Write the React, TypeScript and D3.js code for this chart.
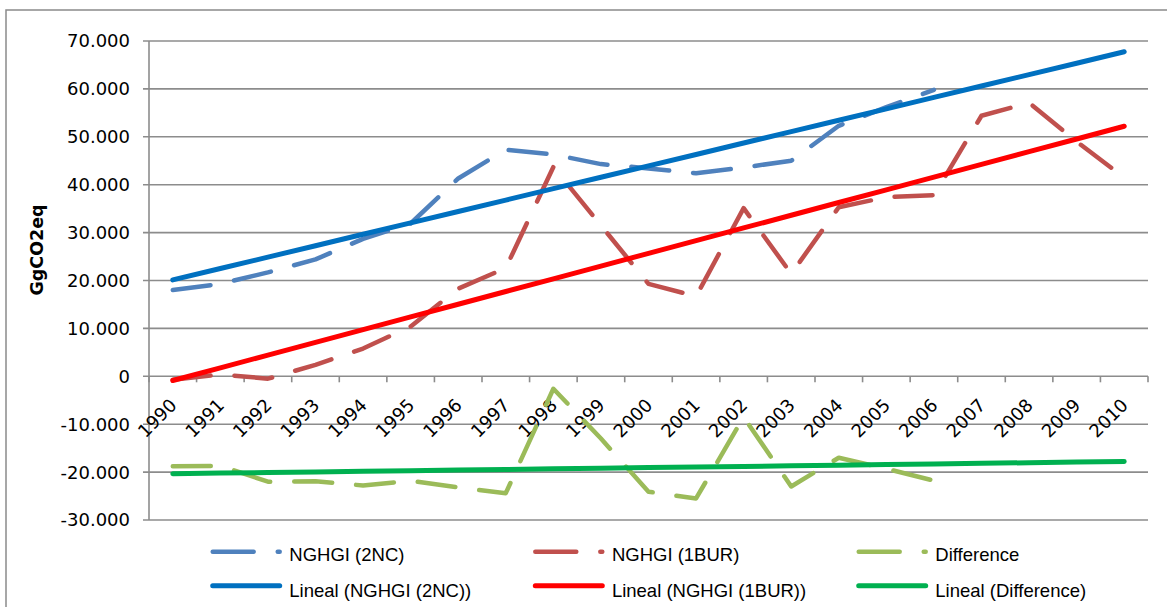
import React from 'react';
import * as d3 from 'd3';

const years = ['1990','1991','1992','1993','1994','1995','1996','1997','1998','1999','2000','2001','2002','2003','2004','2005','2006','2007','2008','2009','2010'];
const nghgi2NC: (number | null)[] = [18000,19300,21700,24400,28700,31900,41300,47300,46300,44300,43400,42400,43600,45000,52300,56200,59800,null,null,null,null];
const nghgi1BUR: (number | null)[] = [-700,400,-500,2400,5800,10400,18300,22600,43700,31500,19300,16700,35100,21400,35300,37400,37800,54400,57100,49000,41500];
const difference: (number | null)[] = [-18800,-18700,-22000,-21900,-22800,-21800,-23200,-24400,-2600,-13000,-24100,-25500,-8500,-23000,-17000,-19300,-21800,null,null,null,null];
const seriesNames = ['NGHGI (2NC)', 'NGHGI (1BUR)', 'Difference'];
const trendNames = ['Lineal (NGHGI (2NC))', 'Lineal (NGHGI (1BUR))', 'Lineal (Difference)'];
const yDomain: [number, number] = [-30000, 70000];
const yAxisTitle = 'GgCO2eq';

const seriesColors = ['#4F81BD', '#C0504D', '#9BBB59'];
const trendColors = ['#0070C0', '#FF0000', '#00B050'];

const W = 1167, H = 607;
const plot = { left: 149, right: 1148, top: 41, bottom: 520 };
const gridColor = '#8c8c8c';
const DASH = '38,24';

function regression(vals: (number | null)[]) {
  const pts = vals.map((v, i) => [i, v] as [number, number | null]).filter(p => p[1] != null) as [number, number][];
  const mx = d3.mean(pts, p => p[0])!;
  const my = d3.mean(pts, p => p[1])!;
  const sxy = d3.sum(pts, p => (p[0] - mx) * (p[1] - my));
  const sxx = d3.sum(pts, p => (p[0] - mx) ** 2);
  const b = sxy / sxx;
  const a = my - b * mx;
  return years.map((_, i) => a + b * i);
}

export default function App() {
  const x = d3.scaleBand<string>().domain(years).range([plot.left, plot.right]).paddingInner(0).paddingOuter(0);
  const bw = x.bandwidth();
  const cx = (i: number) => (x(years[i]) as number) + bw / 2;
  const y = d3.scaleLinear().domain(yDomain).range([plot.bottom, plot.top]);
  const fmt = d3.formatLocale({ decimal: ',', thousands: '.', grouping: [3], currency: ['', ''], minus: '-' }).format(',');
  const yTicks = y.ticks(10);

  const line = d3.line<number | null>()
    .defined(d => d != null)
    .x((_, i) => cx(i))
    .y(d => y(d as number));

  const series = [nghgi2NC, nghgi1BUR, difference];
  const trends = series.map(regression);

  const boundaries = d3.range(years.length + 1).map(k => plot.left + k * bw);
  const y0 = y(0);

  const legendX = [210.7, 533.3, 856.7];
  const row1 = 551.7, row2 = 585.7;

  return (
    <svg width={W} height={H} style={{ position: 'absolute', left: 0, top: 0, background: '#fff' }}>
      <rect x={0} y={0} width={W} height={H} fill="#fff" />
      <rect x={6} y={10} width={W + 50} height={H + 50} fill="none" stroke="#8a8a8a" strokeWidth={1.5} />
      {/* gridlines */}
      {yTicks.map(t => (
        <g key={t}>
          <line x1={plot.left - 6} x2={plot.right} y1={y(t)} y2={y(t)} stroke={gridColor} strokeWidth={1.6} />
          <text x={130} y={y(t)} dy="0.36em" textAnchor="end" fontFamily="DejaVu Sans, Verdana, sans-serif" fontSize={18} fill="#000">{fmt(t)}</text>
        </g>
      ))}
      {/* y axis */}
      <line x1={plot.left} x2={plot.left} y1={plot.top} y2={plot.bottom} stroke={gridColor} strokeWidth={1.6} />
      {/* x tick marks */}
      {boundaries.map((b, k) => (
        <line key={k} x1={b} x2={b} y1={y0} y2={y0 + 6} stroke={gridColor} strokeWidth={1.6} />
      ))}
      {/* x labels */}
      {years.map((yr, i) => (
        <text key={yr} transform={`translate(${cx(i) + 5},${y0 + 30}) rotate(-45)`} textAnchor="end"
          fontFamily="DejaVu Sans, Verdana, sans-serif" fontSize={18} fill="#000">{yr}</text>
      ))}
      {/* y title */}
      <text transform={`translate(43,250) rotate(-90)`} textAnchor="middle" fontFamily="DejaVu Sans, Verdana, sans-serif"
        fontWeight="bold" fontSize={17.5} fill="#000">{yAxisTitle}</text>
      {/* dashed series */}
      {series.map((s, k) => (
        <path key={k} d={line(s) || ''} fill="none" stroke={seriesColors[k]} strokeWidth={4.5}
          strokeDasharray={DASH} strokeLinecap="round" strokeLinejoin="round" />
      ))}
      {/* trendlines */}
      {trends.map((t, k) => (
        <path key={k} d={line(t) || ''} fill="none" stroke={trendColors[k]} strokeWidth={5}
          strokeLinecap="round" strokeLinejoin="round" />
      ))}
      {/* legend */}
      {seriesNames.map((n, k) => (
        <g key={n}>
          <line x1={legendX[k] + 2} x2={legendX[k] + 69} y1={row1} y2={row1} stroke={seriesColors[k]} strokeWidth={4.5}
            strokeDasharray="41,24" strokeLinecap="round" />
          <text x={legendX[k] + 78.6} y={row1 + 9} fontFamily="Liberation Sans, Arial, sans-serif" fontSize={18.5} fill="#000">{n}</text>
        </g>
      ))}
      {trendNames.map((n, k) => (
        <g key={n}>
          <line x1={legendX[k] + 2} x2={legendX[k] + 69} y1={row2} y2={row2} stroke={trendColors[k]} strokeWidth={5}
            strokeLinecap="round" />
          <text x={legendX[k] + 78.6} y={row2 + 11.5} fontFamily="Liberation Sans, Arial, sans-serif" fontSize={18.5} fill="#000">{n}</text>
        </g>
      ))}
    </svg>
  );
}
